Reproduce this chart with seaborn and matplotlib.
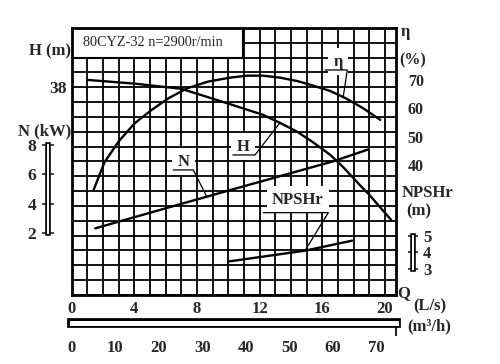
import numpy as np
import matplotlib
matplotlib.use('Agg')
import matplotlib.pyplot as plt
import matplotlib.patheffects as pe
from matplotlib.patches import Rectangle
import seaborn as sns

# ============================================================
# Curva caracteristica bomba 80CYZ-32
# ============================================================
pump_title = '80CYZ-32 n=2900r/min'

# H (m) vs Q (L/s)
q_head = [1.0, 4.0, 7.0, 10.0, 12.2, 13.3, 14.4, 15.4, 16.5, 17.3, 18.4, 19.0, 20.4]
head = [38.5, 38.25, 37.9, 36.9, 36.15, 35.6, 35.0, 34.3, 33.45, 32.65, 31.4, 30.75, 29.05]

# eficiencia (%) vs Q
q_eta = [1.4, 2.1, 3.0, 4.0, 5.1, 6.2, 7.4, 8.7, 10.1, 11.2, 12.2, 13.3,
         14.4, 15.4, 16.5, 17.5, 18.6, 19.7]
eta = [31.2, 41.0, 48.3, 54.6, 59.4, 63.6, 67.1, 69.4, 70.8, 71.5, 71.5, 70.8,
       69.6, 68.0, 66.1, 63.5, 60.0, 55.9]

# potencia N (kW) vs Q
q_power = [1.5, 6.9, 10.2, 16.7, 18.9]
power = [2.3, 3.95, 4.95, 6.9, 7.7]

# NPSHr (m) vs Q
q_npsh = [10.0, 14.9, 17.9]
npsh = [3.45, 4.1, 4.7]

q_ticks = [0, 4, 8, 12, 16, 20]
m3h_ticks = [0, 10, 20, 30, 40, 50, 60, 70]
head_ticks = [38]
eta_ticks = [40, 50, 60, 70]
power_ticks = [2, 4, 6, 8]
npsh_ticks = [3, 4, 5]

ls_to_m3h = 3.6
q_max = 20.7

sns.set_style('white')
plt.rcParams['font.family'] = ['Liberation Serif', 'DejaVu Serif']
plt.rcParams['font.size'] = 12
plt.rcParams['font.weight'] = 'bold'

fig = plt.figure(figsize=(5, 3.64), dpi=100)
ax = fig.add_axes([0.1434, 0.1896, 0.6486, 0.7335])


def double_line(spine, outer, inner):
    # eje dibujado como barra de doble linea
    spine.set_color('white')
    spine.set_linewidth(inner)
    spine.set_path_effects([pe.Stroke(linewidth=outer, foreground='black',
                                      capstyle='projecting'), pe.Normal()])


def only_spine(a, keep):
    for name, s in a.spines.items():
        s.set_visible(name == keep)


# --- eje principal: Q y H, con la reticula ---
sns.lineplot(x=q_head, y=head, ax=ax, color='black', lw=1.7)
ax.set_xlim(0, q_max)
ax.set_ylim(24, 42)
ax.set_xticks(q_ticks)
ax.set_xticks(np.arange(0, 21, 1), minor=True)
ax.set_yticks(head_ticks)
ax.set_yticks(np.arange(24, 43, 1), minor=True)
ax.grid(which='both', color='black', lw=1.3)
ax.set_axisbelow(True)
ax.tick_params(which='both', length=0)
ax.tick_params(axis='x', pad=4, labelsize=12)
ax.tick_params(axis='y', pad=3.5, labelsize=12.5)
for s in ax.spines.values():
    s.set_color('black')
    s.set_linewidth(2)

ax.add_patch(Rectangle((0, 40), 10.93, 2, facecolor='white',
                       edgecolor='black', lw=1.5, zorder=2))
ax.text(5.2, 41.05, pump_title, ha='center', va='center', fontsize=10.3,
        fontweight='normal', zorder=3)

# --- eficiencia ---
ax_eta = ax.twinx()
sns.lineplot(x=q_eta, y=eta, ax=ax_eta, color='black', lw=1.7)
ax_eta.set_ylim(-5.92, 88.33)
ax_eta.set_yticks(eta_ticks)
ax_eta.tick_params(axis='y', length=0, pad=8.5, labelsize=11.5)
only_spine(ax_eta, None)

# --- potencia ---
ax_pw = ax.twinx()
sns.lineplot(x=q_power, y=power, ax=ax_pw, color='black', lw=1.7)
ax_pw.set_ylim(-2.27, 16.04)
ax_pw.yaxis.tick_left()
ax_pw.set_yticks(power_ticks)
only_spine(ax_pw, 'left')
ax_pw.spines['left'].set_position(('outward', 17.4))
ax_pw.spines['left'].set_bounds(2, 8)
double_line(ax_pw.spines['left'], 4.0, 1.5)
ax_pw.tick_params(axis='y', direction='inout', length=8, width=1.2, pad=4, labelsize=12.5)

# --- NPSHr ---
ax_np = ax.twinx()
sns.lineplot(x=q_npsh, y=npsh, ax=ax_np, color='black', lw=1.7)
ax_np.set_ylim(1.444, 17.44)
ax_np.set_yticks(npsh_ticks)
only_spine(ax_np, 'right')
ax_np.spines['right'].set_position(('outward', 11.9))
ax_np.spines['right'].set_bounds(3, 5)
double_line(ax_np.spines['right'], 4.0, 1.5)
ax_np.tick_params(axis='y', direction='inout', length=7, width=1.2, pad=4, labelsize=12)

# --- escala en m3/h ---
ax_m = ax.twiny()
ax_m.set_xlim(0, q_max * ls_to_m3h)
ax_m.xaxis.tick_bottom()
ax_m.set_xticks(m3h_ticks)
ax_m.set_xticks([0, q_max * ls_to_m3h], minor=True)
only_spine(ax_m, 'bottom')
ax_m.spines['bottom'].set_position(('outward', 20.2))
double_line(ax_m.spines['bottom'], 7.0, 3.6)
ax_m.tick_params(axis='x', which='major', length=0, pad=12, labelsize=12)
ax_m.tick_params(axis='x', which='minor', direction='out', length=9, width=1.5)

ax.set_xlim(0, q_max)


def leader(ax_c, qs, vs, q_hit, label, tx, ty, ux, uy):
    v = np.interp(q_hit, qs, vs)
    hx, hy = ax.transData.inverted().transform(ax_c.transData.transform((q_hit, v)))
    ax.text(tx, ty, label, ha='center', va='center', fontsize=12, zorder=3,
            bbox=dict(facecolor='white', edgecolor='none', pad=4))
    ax.plot([ux[0], ux[1], hx], [uy, uy, hy], color='black', lw=0.9, zorder=4)


leader(ax_eta, q_eta, eta, 17.33, 'η', 17.0, 39.71, (16.17, 17.59), 39.17)
leader(ax, q_head, head, 13.29, 'H', 10.95, 34.0, (10.29, 11.7), 33.44)
leader(ax_pw, q_power, power, 8.62, 'N', 7.12, 32.99, (6.48, 7.76), 32.43)
leader(ax_np, q_npsh, npsh, 14.89, 'NPSHr', 14.44, 30.41, (12.23, 16.38), 29.55)

# --- rotulos de los ejes ---
fig.text(71 / 500, 1 - 51.7 / 364, 'H (m)', ha='right', va='center', fontsize=12)
fig.text(71 / 500, 1 - 131 / 364, 'N (kW)', ha='right', va='center', fontsize=12)
fig.text(401 / 500, 1 - 32 / 364, 'η', ha='left', va='center', fontsize=12)
fig.text(413 / 500, 1 - 60 / 364, '(%)', ha='center', va='center', fontsize=11.5)
fig.text(401.7 / 500, 1 - 193.3 / 364, 'NPSHr', ha='left', va='center', fontsize=12)
fig.text(419 / 500, 1 - 211.7 / 364, '(m)', ha='center', va='center', fontsize=12)
fig.text(404 / 500, 1 - 293.3 / 364, 'Q', ha='center', va='center', fontsize=12)
fig.text(430 / 500, 1 - 306.7 / 364, '(L/s)', ha='center', va='center', fontsize=12)
fig.text(429 / 500, 1 - 326.7 / 364, '(m³/h)', ha='center', va='center', fontsize=12)

fig.savefig('out.png', dpi=100, facecolor='white')
